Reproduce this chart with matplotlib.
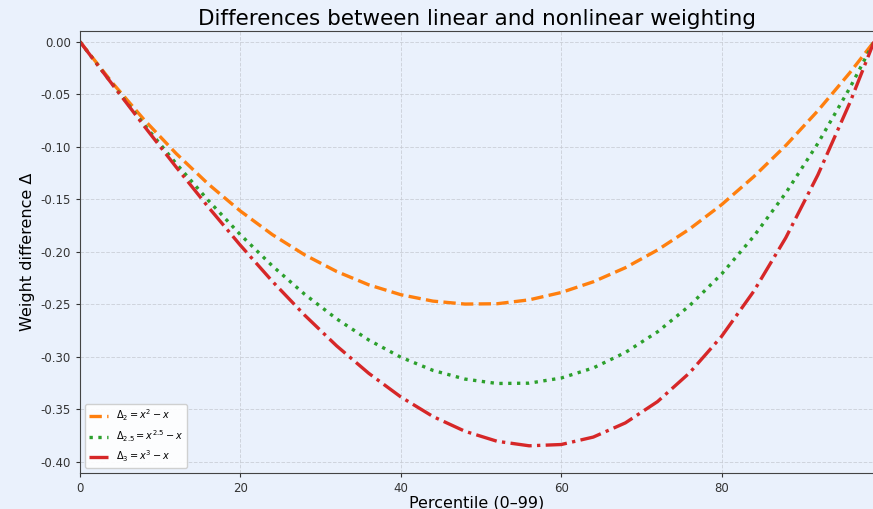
import numpy as np
import matplotlib
matplotlib.use("Agg")
import matplotlib.pyplot as plt

# percentile positions
percentile = [0, 4, 8, 12, 16, 20, 24, 28, 32, 36, 40, 44, 48, 52,
              56, 60, 64, 68, 72, 76, 80, 84, 88, 92, 96, 99]

# Delta_2 = x^2 - x
delta_2 = [0.0, -0.0388, -0.0743, -0.1065, -0.1355, -0.1612, -0.1837, -0.2028,
           -0.2187, -0.2314, -0.2408, -0.2469, -0.2497, -0.2494, -0.2457,
           -0.2387, -0.2285, -0.2151, -0.1983, -0.1783, -0.1551, -0.1285,
           -0.0988, -0.0657, -0.0294, 0.0]

# Delta_2.5 = x^2.5 - x
delta_25 = [0.0, -0.0401, -0.0789, -0.1161, -0.1511, -0.1837, -0.2135, -0.2403,
            -0.2638, -0.2839, -0.3003, -0.3128, -0.3211, -0.3253, -0.3250,
            -0.3201, -0.3105, -0.2958, -0.2762, -0.2513, -0.2211, -0.1853,
            -0.1440, -0.0968, -0.0438, 0.0]

# Delta_3 = x^3 - x
delta_3 = [0.0, -0.0403, -0.0803, -0.1194, -0.1574, -0.1938, -0.2282, -0.2602,
           -0.2895, -0.3156, -0.3381, -0.3567, -0.3708, -0.3803, -0.3846,
           -0.3834, -0.3763, -0.3628, -0.3426, -0.3152, -0.2804, -0.2376,
           -0.1866, -0.1268, -0.0579, 0.0]

y_ticks = [-0.40, -0.35, -0.30, -0.25, -0.20, -0.15, -0.10, -0.05, 0.00]

bg = "#eaf1fc"
fig = plt.figure(figsize=(8.73, 5.09), dpi=100, facecolor=bg)
ax = fig.add_axes([80 / 873, 36 / 509, 794 / 873, 442 / 509])
ax.set_facecolor(bg)

ax.plot(percentile, delta_2, color="#ff7f0e", linestyle="--", linewidth=2.4,
        label=r"$\Delta_2 = x^2 - x$")
ax.plot(percentile, delta_25, color="#2ca02c", linestyle=":", linewidth=2.4,
        label=r"$\Delta_{2.5} = x^{2.5} - x$")
ax.plot(percentile, delta_3, color="#d62728", linestyle="-.", linewidth=2.4,
        label=r"$\Delta_3 = x^3 - x$")

ax.set_xlim(0, 99)
ax.set_ylim(-0.4105, 0.0102)
ax.set_xticks([0, 20, 40, 60, 80])
ax.set_yticks(y_ticks)
ax.set_yticklabels(["%.2f" % v if v != 0 else "0.00" for v in y_ticks])
ax.tick_params(labelsize=8.5, colors="#333333", length=3)
ax.grid(True, linestyle="--", color="#c8ccd4", linewidth=0.7, alpha=0.8)
ax.spines["right"].set_visible(False)
for s in ["left", "bottom", "top"]:
    ax.spines[s].set_color("#444444")

ax.set_xlabel("Percentile (0–99)", fontsize=11.5, labelpad=0)
ax.set_ylabel("Weight difference Δ", fontsize=11.5)
ax.set_title("Differences between linear and nonlinear weighting", fontsize=15.5, pad=4)
ax.legend(loc="lower left", fontsize=7, framealpha=0.9)

fig.savefig("out.png", dpi=100, facecolor=bg)
